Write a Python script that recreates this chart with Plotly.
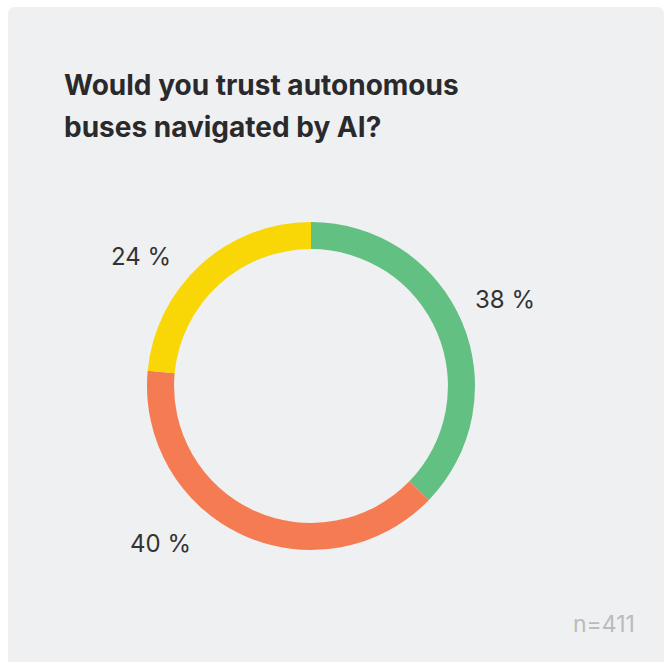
import plotly.graph_objects as go

# Survey answers (percent of respondents)
categories = ["Yes", "No", "Not sure"]
shares = [38, 40, 24]
colors = ["#62C083", "#F57B52", "#F9D606"]
title_lines = ["Would you trust autonomous", "buses navigated by AI?"]
sample_note = "n=411"

W, H = 667, 662

# Ring geometry in pixels
cx, cy, r_out = 311, 386, 164

def px(x):
    return x / W

def py(y):
    return 1 - y / H

fig = go.Figure(
    go.Pie(
        labels=categories,
        values=shares,
        marker=dict(colors=colors, line=dict(width=0)),
        hole=0.835,
        sort=False,
        direction="clockwise",
        rotation=0,
        textinfo="none",
        showlegend=False,
        domain=dict(x=[px(cx - r_out), px(cx + r_out)],
                    y=[py(cy + r_out), py(cy - r_out)]),
    )
)

# Card background with rounded top corners
x0, x1, y0, y1, rad = 8, 664, 7, 700, 7
card_path = (
    f"M {px(x0)} {py(y0 + rad)} "
    f"Q {px(x0)} {py(y0)} {px(x0 + rad)} {py(y0)} "
    f"L {px(x1 - rad)} {py(y0)} "
    f"Q {px(x1)} {py(y0)} {px(x1)} {py(y0 + rad)} "
    f"L {px(x1)} {py(y1)} L {px(x0)} {py(y1)} Z"
)
fig.add_shape(type="path", path=card_path, xref="paper", yref="paper",
              fillcolor="#EFF0F2", line=dict(width=0), layer="below")

# Title, one annotation per line for tight control of the leading
for i, line in enumerate(title_lines):
    fig.add_annotation(
        x=px(62), y=py(85 + 42 * i), xref="paper", yref="paper",
        xanchor="left", yanchor="middle", showarrow=False,
        text=f"<b>{line}</b>",
        font=dict(family="Inter", size=28, color="#2A2A2C"),
    )

# Percentage labels around the ring
label_pos = [(505, 299), (160, 543), (141, 256)]
for val, (lx, ly) in zip(shares, label_pos):
    fig.add_annotation(
        x=px(lx), y=py(ly), xref="paper", yref="paper",
        xanchor="center", yanchor="middle", showarrow=False,
        text=f"{val} %",
        font=dict(family="Inter", size=24, color="#333333"),
    )

# Sample size
fig.add_annotation(
    x=px(637), y=py(624), xref="paper", yref="paper",
    xanchor="right", yanchor="middle", showarrow=False,
    text=sample_note,
    font=dict(family="Inter", size=23, color="#B9BBBD"),
)

fig.update_layout(
    width=W, height=H,
    margin=dict(l=0, r=0, t=0, b=0),
    paper_bgcolor="#FFFFFF",
    plot_bgcolor="#FFFFFF",
)

fig.write_html("out.html")
